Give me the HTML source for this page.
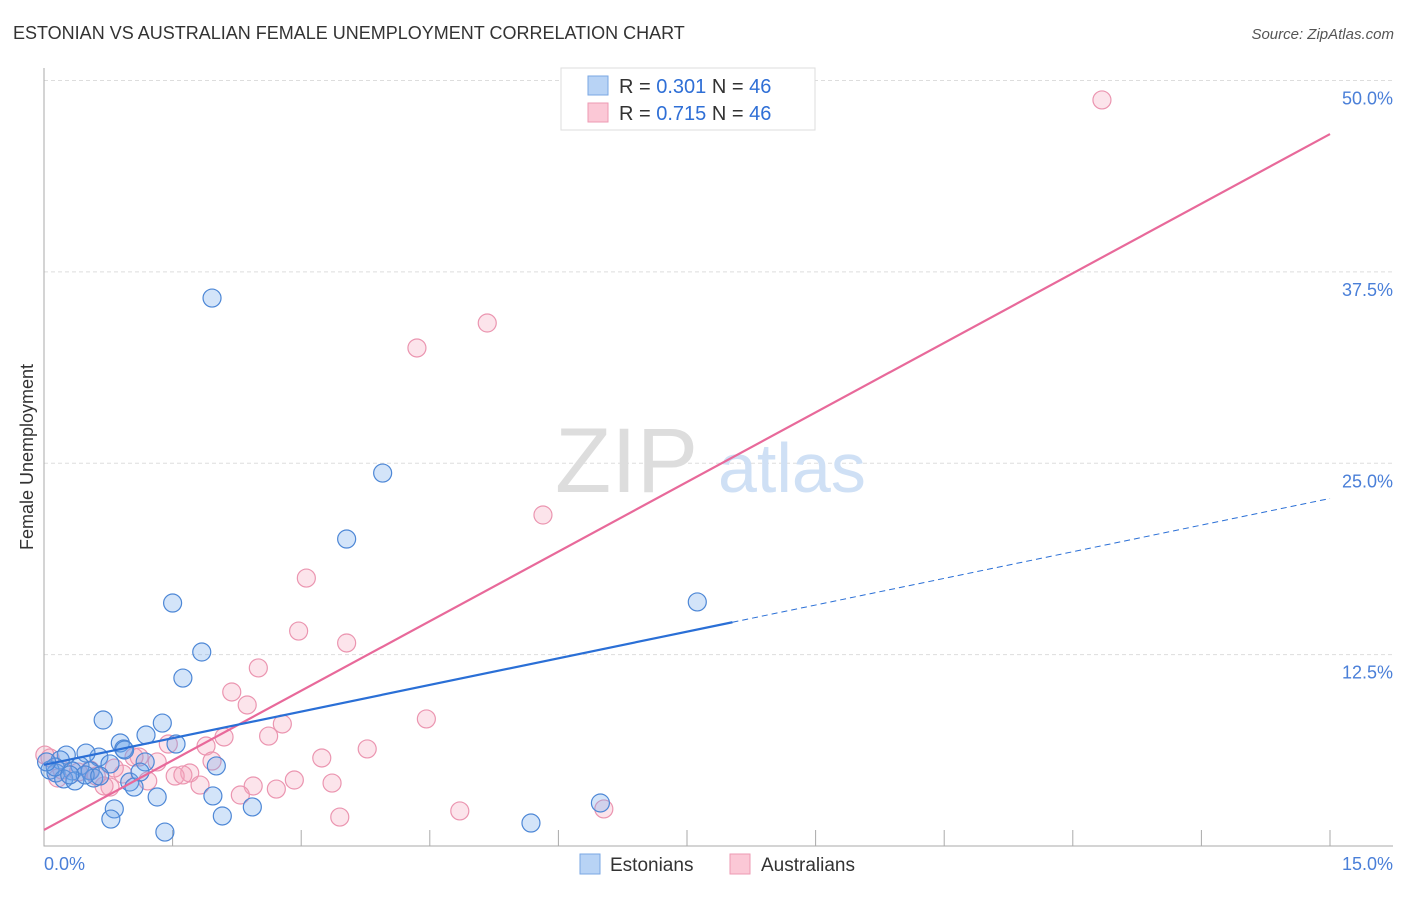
<!DOCTYPE html>
<html><head><meta charset="utf-8"><style>
body{margin:0;background:#fff;font-family:"Liberation Sans",sans-serif;}
svg text{font-family:"Liberation Sans",sans-serif;}
</style></head><body>
<svg id="chart" width="1406" height="892" xmlns="http://www.w3.org/2000/svg">
<text x="13" y="39" font-size="18" fill="#333">ESTONIAN VS AUSTRALIAN FEMALE UNEMPLOYMENT CORRELATION CHART</text>
<text x="1394" y="39" font-size="15" fill="#555" text-anchor="end" font-style="italic">Source: ZipAtlas.com</text>
<g id="grid"></g>
<g><text x="555" y="492" font-size="92" fill="#ddd" font-family="Liberation Serif">ZIP</text><text x="718" y="492" font-size="70" fill="#cfe0f5">atlas</text></g>
<g id="points"></g>
<g id="lines"></g>
<text transform="translate(33,457) rotate(-90)" font-size="18" fill="#333" text-anchor="middle">Female Unemployment</text>
<text x="44" y="870" font-size="18" fill="#4a7fd8">0.0%</text>
<text x="1393" y="870" font-size="18" fill="#4a7fd8" text-anchor="end">15.0%</text>
<g>
<rect x="561" y="68" width="254" height="62" fill="#fff" stroke="#ddd"/>
<rect x="588" y="76" width="20" height="19" fill="#b8d3f5" stroke="#7aa7e3"/>
<rect x="588" y="103" width="20" height="19" fill="#fbc8d6" stroke="#ee9ab3"/>
<text x="619" y="93" font-size="20" fill="#333">R = <tspan fill="#2f6fd6">0.301</tspan>   N = <tspan fill="#2f6fd6">46</tspan></text>
<text x="619" y="120" font-size="20" fill="#333">R = <tspan fill="#2f6fd6">0.715</tspan>   N = <tspan fill="#2f6fd6">46</tspan></text>
</g>
<g>
<rect x="580" y="854" width="20" height="20" fill="#b8d3f5" stroke="#7aa7e3"/>
<text x="610" y="871" font-size="19" fill="#333">Estonians</text>
<rect x="730" y="854" width="20" height="20" fill="#fbc8d6" stroke="#ee9ab3"/>
<text x="761" y="871" font-size="19" fill="#333">Australians</text>
</g>
</svg>
<script>
const yTicks=[12.5,25,37.5,50];
const yTickLabels=["12.5%","25.0%","37.5%","50.0%"];
const xTicks=[0,1.5,3,4.5,6,7.5,9,10.5,12,13.5,15];
const estX=[1.96,3.95,3.53,1.50,7.62,1.84,1.62,0.69,1.38,1.19,0.89,1.54,0.93,0.64,0.49,0.26,0.19,0.42,0.77,0.07,0.14,0.33,0.54,0.23,0.36,0.58,1.00,1.05,2.01,1.18,1.12,0.13,1.32,1.97,0.82,0.78,2.43,2.08,1.41,5.68,6.49,0.03,0.94,0.48,0.65,0.30];
const estY=[35.79,24.36,20.05,15.87,15.94,12.67,10.97,8.23,8.03,7.25,6.73,6.66,6.34,5.81,6.07,5.94,5.62,5.23,5.36,4.96,4.77,4.90,4.90,4.38,4.25,4.44,4.18,3.85,5.23,5.49,4.83,5.16,3.20,3.27,2.42,1.76,2.55,1.96,0.91,1.50,2.81,5.49,6.27,4.64,4.57,4.64];
const ausX=[12.34,5.17,4.35,5.82,3.06,2.97,3.53,2.50,2.19,2.37,4.46,2.78,2.10,2.62,1.89,3.77,3.24,1.45,1.96,1.11,1.32,1.70,1.53,1.62,0.92,3.36,2.92,2.44,2.71,2.29,1.82,1.21,0.77,0.70,4.85,3.45,6.53,0.07,0.01,0.21,0.40,0.61,0.16,1.05,0.82,0.54];
const ausY=[48.73,34.16,32.53,21.62,17.50,14.04,13.26,11.63,10.06,9.21,8.30,7.97,7.12,7.18,6.53,6.34,5.75,6.66,5.55,5.81,5.49,4.77,4.57,4.64,4.70,4.11,4.31,3.92,3.72,3.33,3.98,4.25,3.85,3.92,2.29,1.89,2.42,5.75,5.94,4.96,4.83,4.57,4.44,5.81,5.09,4.96];
const estLine=[5.3,1.16]; // intercept, slope
const ausLine=[1.05,3.03];
const estSolidEnd=8.03;
const NS="http://www.w3.org/2000/svg";
const X=v=>44+v*(1286/15);
const Y=v=>846-v*15.31;
function mk(tag,attrs,parent){const e=document.createElementNS(NS,tag);for(const k in attrs)e.setAttribute(k,attrs[k]);parent.appendChild(e);return e;}
const grid=document.getElementById('grid');
yTicks.forEach((t,i)=>{
 const l=mk('line',{x1:44,x2:1393,y1:Y(t),y2:Y(t),stroke:'#ddd','stroke-dasharray':'4,3'},grid);
 
 
 const tx=mk('text',{x:1393,y:Y(t)+24,'font-size':18,fill:'#4a7fd8','text-anchor':'end'},grid);
 tx.textContent=yTickLabels[i];
 
 
});
const ax=mk('path',{d:'M44 68V846H1393',stroke:'#aaa',fill:'none'},grid);


xTicks.forEach(t=>{
 const l=mk('line',{x1:X(t),x2:X(t),y1:846,y2:830,stroke:'#aaa'},grid);
 
 
});
const pts=document.getElementById('points');
function dots(xs,ys,fill,stroke,name){xs.forEach((x,i)=>{
 const c=mk('circle',{cx:X(x),cy:Y(ys[i]),r:9,fill:fill,stroke:stroke,'stroke-width':1.2},pts);
 
 
});}
dots(ausX,ausY,'rgba(246,165,190,0.3)','#eb95b0','australian-point');
dots(estX,estY,'rgba(110,165,235,0.3)','#4d87d6','estonian-point');
const lg=document.getElementById('lines');
const pl=mk('line',{x1:X(0),y1:Y(ausLine[0]),x2:X(15),y2:Y(ausLine[0]+ausLine[1]*15),stroke:'#e8699a','stroke-width':2.2},lg);


const bl=mk('line',{x1:X(0),y1:Y(estLine[0]),x2:X(estSolidEnd),y2:Y(estLine[0]+estLine[1]*estSolidEnd),stroke:'#2a6fd6','stroke-width':2.2},lg);


const bd=mk('line',{x1:X(estSolidEnd),y1:Y(estLine[0]+estLine[1]*estSolidEnd),x2:X(15),y2:Y(estLine[0]+estLine[1]*15),stroke:'#2a6fd6','stroke-width':1,'stroke-dasharray':'6,4'},lg);


</script>
</body></html>
